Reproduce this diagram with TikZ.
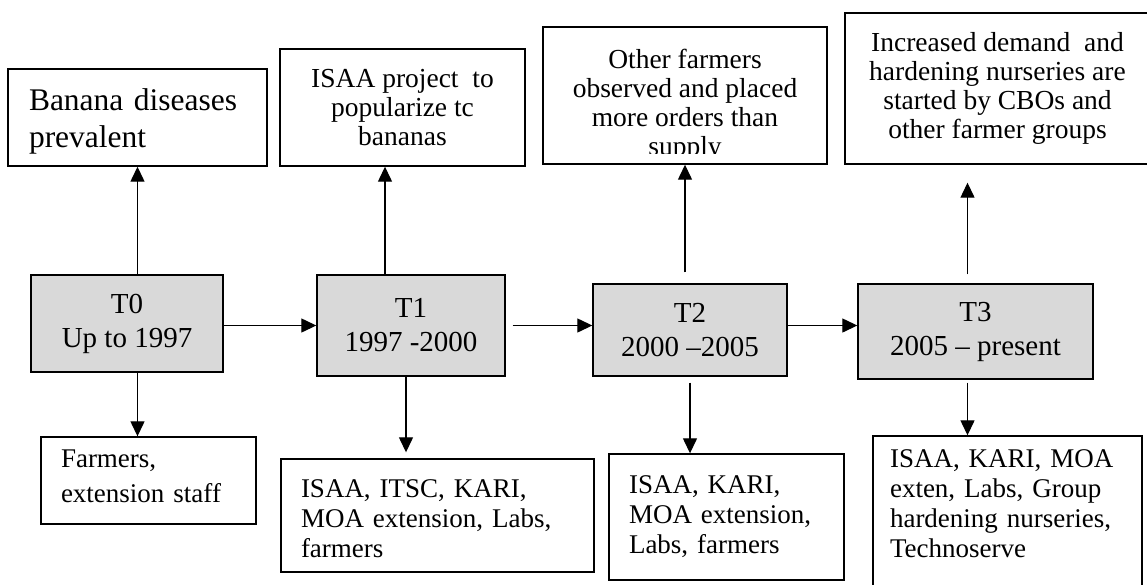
\documentclass[tikz,border=0pt]{standalone}
\usepackage{fontspec}
\setmainfont{Liberation Serif}
\usetikzlibrary{arrows.meta}
\definecolor{periodgray}{RGB}{217,217,217}
\newcommand{\padbelow}[1]{\rule[-#1]{0pt}{#1}}
\newcommand{\padabove}[1]{\rule{0pt}{#1}}

\begin{document}
\begin{tikzpicture}[x=1pt, y=-1pt,
    event box/.style={draw, line width=1.4pt, inner sep=0pt, align=center, font=\fontsize{27.5}{29}\selectfont},
    period box/.style={draw, line width=1.4pt, fill=periodgray, inner sep=0pt, align=center, font=\fontsize{29}{34}\selectfont},
    actor box/.style={draw, line width=1.4pt, inner xsep=20pt, inner ysep=0pt, align=left, font=\fontsize{27}{30}\selectfont},
    link/.style={-{Triangle[length=15pt, width=14pt]}, line width=1.3pt}]
    \useasboundingbox (0,0) rectangle (1147,584);
    \clip (0,0) rectangle (1147,584);

    \node[event box, align=left, text width=217pt, inner xsep=21pt, minimum height=97pt, font=\fontsize{31.5}{37}\selectfont] (disease) at (137.5,117.5) {\padabove{29.5pt}Banana diseases\\prevalent};
    \node[event box, minimum width=245pt, minimum height=117pt] (project) at (402.5,107.5) {ISAA project~ to\\popularize tc\\bananas};
    \node[event box, minimum width=284pt, minimum height=137pt] (orders) at (685,95.5) {};
    \begin{scope}
        \clip (orders.north west) rectangle ([yshift=11pt]orders.south east);
        \node[event box, draw=none, anchor=north] (orders text) at ([yshift=-22pt]orders.north) {Other farmers\\observed and placed\\more orders than\\supply};
    \end{scope}
    \node[event box, minimum width=305pt, minimum height=151pt] (demand) at (997.5,88.5) {Increased demand~ and\\hardening nurseries are\\started by CBOs and\\other farmer groups};

    \node[period box, minimum width=192pt, minimum height=97pt] (t0) at (127,323.5) {T0\\Up to 1997};
    \node[period box, minimum width=188pt, minimum height=101pt] (t1) at (411,325.5) {T1\\1997 -2000};
    \node[period box, minimum width=194pt, minimum height=92pt] (t2) at (690,330) {T2\\2000 --2005};
    \node[period box, minimum width=235pt, minimum height=95pt] (t3) at (975.5,331.5) {T3\\2005 -- present};

    \node[actor box, text width=175pt, minimum height=87pt, font=\fontsize{27}{35}\selectfont] (actors0) at (148.5,480.5) {Farmers,\\extension staff\padbelow{8pt}};
    \node[actor box, text width=273pt, minimum height=113pt] (actors1) at (437.5,515.5) {\padabove{24pt}ISAA, ITSC, KARI,\\MOA extension, Labs,\\farmers};
    \node[actor box, text width=195pt, minimum height=126pt] (actors2) at (726.5,517) {ISAA, KARI,\\MOA extension,\\Labs, farmers};
    \node[actor box, text width=235pt, inner xsep=17pt, minimum height=164pt] (actors3) at (1007.5,518) {ISAA, KARI, MOA\\exten, Labs, Group\\hardening nurseries,\\Technoserve\padbelow{28pt}};

    \coordinate (t1 mast) at ([xshift=-26pt]t1.north);
    \coordinate (t1 foot) at ([xshift=-5pt]t1.south);
    \coordinate (t3 mast) at ([xshift=-8pt]t3.north);
    \coordinate (t3 foot) at ([xshift=-8pt]t3.south);

    \draw[link] (t0.north -| disease.south) -- (disease.south);
    \draw[link] (t1 mast) -- (t1 mast |- project.south);
    \draw[link, shorten <=11pt] (t2.north -| orders.south) -- (orders.south);
    \draw[link, shorten <=9pt, shorten >=18pt] (t3 mast) -- (t3 mast |- demand.south);

    \draw[link] (t1.west -| t0.east) -- (t1.west);
    \draw[link, shorten <=7pt] (t1.east) -- (t1.east -| t2.west);
    \draw[link] (t1.east -| t2.east) -- (t1.east -| t3.west);

    \draw[link] (t0.south -| disease.south) -- (actors0.north -| disease.south);
    \draw[link, shorten >=6pt] (t1 foot) -- (t1 foot |- actors1.north);
    \draw[link, shorten <=6pt] (t2.south) -- (t2.south |- actors2.north);
    \draw[link, shorten <=3pt] (t3 foot) -- (t3 foot |- actors3.north);
\end{tikzpicture}
\end{document}
